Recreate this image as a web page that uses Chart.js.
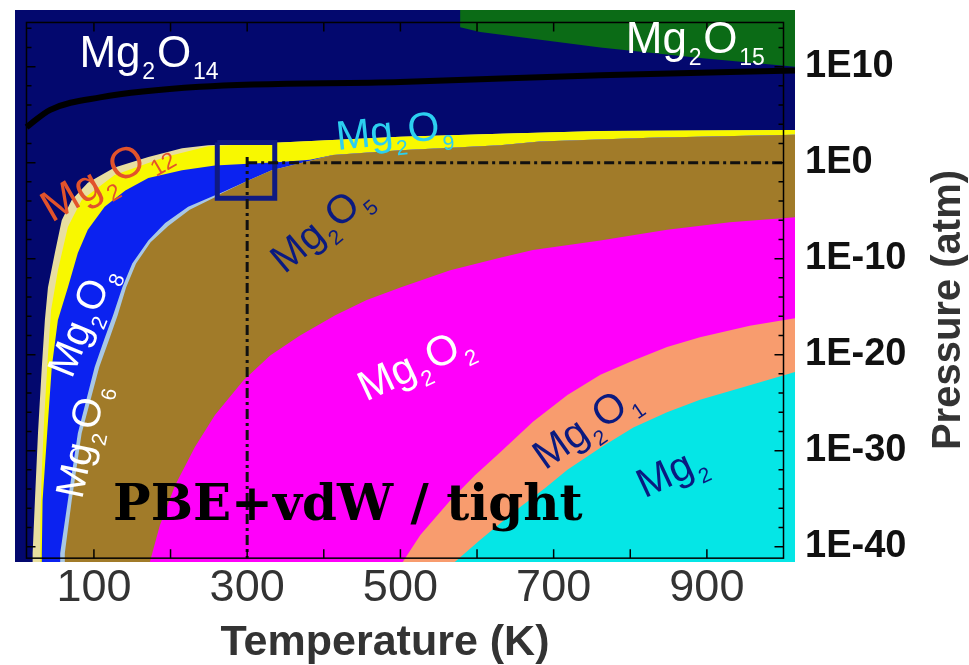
<!DOCTYPE html>
<html lang="en">
<head>
<meta charset="UTF-8" />
<title>Mg2Ox phase diagram</title>
<script src="https://cdn.jsdelivr.net/npm/chart.js"></script>
<style>
  * { margin: 0; padding: 0; box-sizing: border-box; }
  body { background: #fff; width: 969px; height: 665px; overflow: hidden; }
</style>
</head>
<body>
<canvas id="phaseChart" width="969" height="665"></canvas>
<script>
// axis ranges: temperature (K) and log10 of pressure (atm)
const tMin = -3, tMax = 1015;
const pMin = -41.6, pMax = 15.9;
const xTickValues = [100, 300, 500, 700, 900];
const yTickValues = [-40, -30, -20, -10, 0, 10];

// phase boundaries (T in K, log10 P)
const o15T = [578, 578, 604, 761, 891, 1015];
const o15P = [15.9, 14.1, 13.6, 12.0, 10.9, 10.0];

const o12T = [20, 20, 23, 27, 32, 36, 40, 49, 58, 71, 92, 127, 171, 215, 249, 343, 500, 630, 761, 1015];
const o12P = [-41.6, -40.7, -35.2, -28.2, -21.3, -16.4, -13.0, -9.4, -6.0, -3.9, -2.1, -0.5, 0.6, 1.5, 1.8, 2.1, 2.7, 3.0, 3.3, 3.4];

const o9T = [30, 30, 32, 35, 39, 44, 53, 66, 84, 127, 193, 249, 343, 500, 630, 761, 1015];
const o9P = [-41.6, -37.2, -32.1, -26.8, -21.3, -15.4, -11.2, -6.7, -3.9, -1.3, 0.6, 1.7, 2.1, 2.7, 3.0, 3.3, 3.4];

const o8T = [32, 32, 33, 39, 45, 53, 66, 79, 92, 114, 141, 171, 215, 258, 339, 382, 412, 500, 630, 682, 826, 1015];
const o8P = [-41.6, -40.7, -35.2, -28.2, -21.3, -16.4, -13.0, -9.4, -7.0, -4.6, -2.9, -1.6, -0.8, -0.3, 0.05, 0.3, 0.8, 1.3, 1.8, 2.2, 2.6, 2.9];

const o6T = [56, 56, 66, 79, 101, 114, 125, 137, 150, 171, 193, 223, 258, 267, 300, 332, 382, 412, 500, 630, 682, 826, 1015];
const o6P = [-41.6, -40.7, -35.2, -28.2, -21.3, -18.3, -15.9, -13.0, -10.5, -8.1, -6.3, -4.6, -3.4, -3.1, -1.9, -0.8, 0.2, 0.8, 1.3, 1.8, 2.2, 2.6, 2.9];

const o5T = [62, 62, 71, 84, 107, 120, 131, 142, 155, 174, 197, 225, 258, 267, 300, 332, 382, 412, 500, 630, 682, 826, 1015];
const o5P = [-41.6, -40.7, -35.2, -28.2, -21.3, -18.4, -15.9, -13.0, -10.5, -8.3, -6.6, -4.9, -3.6, -3.2, -1.9, -0.8, 0.2, 0.8, 1.3, 1.8, 2.2, 2.6, 2.9];

const o2T = [173, 186, 206, 232, 258, 295, 330, 369, 415, 456, 500, 565, 630, 673, 761, 848, 930, 1015];
const o2P = [-41.6, -37.8, -33.6, -29.6, -26.3, -22.7, -20.1, -18.0, -15.9, -14.3, -13.0, -11.2, -9.9, -9.1, -8.1, -7.0, -6.2, -5.7];

const o1T = [503, 526, 565, 597, 630, 673, 718, 761, 804, 848, 891, 956, 1015];
const o1P = [-41.6, -38.8, -35.2, -32.6, -30.2, -27.0, -24.2, -22.1, -20.6, -19.2, -18.2, -17.0, -16.2];

const mg2T = [571, 604, 630, 656, 689, 718, 761, 804, 848, 891, 956, 1015];
const mg2P = [-41.6, -39.3, -37.6, -35.9, -33.9, -32.0, -29.7, -27.6, -26.0, -24.7, -23.2, -21.8];

// thick black line inside the Mg2O14 field
const lineT = [12, 43, 108, 238, 500, 761, 1015];
const lineP = [3.7, 5.5, 6.8, 7.9, 8.4, 9.1, 9.6];

// marked box, guide lines at 300 K / 1 atm, plot frame
const boxT = [261, 336];
const boxP = [-3.7, 2.1];
const guideT = 300, guideP = 0;
const frameT = [12, 1000];
const frameP = [-41.2, 14.6];

const phaseLabels = [
  { parts: ["Mg", "2", "O", "14"], t: 173, p: 11.6, angle: 0, size: 44, color: "#ffffff" },
  { parts: ["Mg", "2", "O", "15"], t: 886, p: 13.1, angle: 0, size: 44, color: "#ffffff" },
  { parts: ["Mg", "2", "O", "12"], t: 114, p: -1.2, angle: -30, size: 44, color: "#e2532b" },
  { parts: ["Mg", "2", "O", "9"], t: 493, p: 3.5, angle: -6, size: 41, color: "#2ccff0" },
  { parts: ["Mg", "2", "O", "5"], t: 395, p: -6.6, angle: -40, size: 40, color: "#0a1a80" },
  { parts: ["Mg", "2", "O", "8"], t: 82, p: -16.4, angle: -68, size: 40, color: "#ffffff" },
  { parts: ["Mg", "2", "O", "6"], t: 82, p: -28.9, angle: -78, size: 40, color: "#ffffff" },
  { parts: ["Mg", "2", "O", "2"], t: 519, p: -20.8, angle: -25, size: 42, color: "#ffffff" },
  { parts: ["Mg", "2", "O", "1"], t: 741, p: -27.3, angle: -35, size: 41, color: "#0a1a80" },
  { parts: ["Mg", "2"], t: 853, p: -32.0, angle: -25, size: 41, color: "#0a1a80" },
];

function toPoints(ts, ps) {
  return ts.map((t, i) => ({ x: t, y: ps[i] }));
}

// a phase field is everything below/right of its boundary; drawn in layers
function field(color, ts, ps, order, corner) {
  const pts = toPoints(ts, ps);
  pts.push(corner || { x: tMax, y: pMin });
  return {
    data: pts,
    backgroundColor: color,
    borderWidth: 0,
    fill: "shape",
    pointRadius: 0,
    order: order,
  };
}

const datasets = [
  field("#03086e", [tMin, tMin, tMax], [pMin, pMax, pMax], 20),
  field("#0b6b16", o15T, o15P, 19, { x: tMax, y: pMax }),
  field("#e8dea0", o12T, o12P, 18),
  field("#f8f800", o9T, o9P, 17),
  field("#0b22f0", o8T, o8P, 16),
  field("#a9c8e4", o6T, o6P, 15),
  field("#a17b29", o5T, o5P, 14),
  field("#ff00fa", o2T, o2P, 13),
  field("#f89c6e", o1T, o1P, 12),
  field("#05e6e6", mg2T, mg2P, 11),
  {
    data: toPoints(lineT, lineP),
    borderColor: "#000",
    borderWidth: 6,
    fill: false,
    pointRadius: 0,
    cubicInterpolationMode: "monotone",
    order: 3,
  },
  {
    data: toPoints([boxT[0], boxT[1], boxT[1], boxT[0], boxT[0]], [boxP[1], boxP[1], boxP[0], boxP[0], boxP[1]]),
    borderColor: "#0f1a82",
    borderWidth: 5,
    fill: false,
    pointRadius: 0,
    order: 2,
  },
  {
    data: toPoints([guideT, guideT], [0.6, frameP[0]]),
    borderColor: "#111",
    borderWidth: 3,
    borderDash: [10, 4, 3, 4],
    fill: false,
    pointRadius: 0,
    order: 1,
  },
  {
    data: toPoints([guideT, frameT[1]], [guideP, guideP]),
    borderColor: "#111",
    borderWidth: 3,
    borderDash: [10, 4, 3, 4],
    fill: false,
    pointRadius: 0,
    order: 0,
  },
];

function drawFormula(ctx, parts, size, color) {
  const mainFont = size + "px 'Liberation Sans', Arial, sans-serif";
  const subFont = Math.round(size * 0.52) + "px 'Liberation Sans', Arial, sans-serif";
  const widths = [];
  let total = 0;
  parts.forEach((p, i) => {
    ctx.font = i % 2 ? subFont : mainFont;
    const w = ctx.measureText(p).width + (i % 2 ? size * 0.08 : 0);
    widths.push(w);
    total += w;
  });
  let cx = -total / 2;
  ctx.fillStyle = color;
  ctx.textAlign = "left";
  ctx.textBaseline = "alphabetic";
  parts.forEach((p, i) => {
    ctx.font = i % 2 ? subFont : mainFont;
    const dy = i % 2 ? size * 0.64 : size * 0.36;
    ctx.fillText(p, cx + (i % 2 ? size * 0.04 : 0), dy);
    cx += widths[i];
  });
}

const overlay = {
  id: "overlay",
  afterDatasetsDraw(chart) {
    const { ctx } = chart;
    const x = chart.scales.x, y = chart.scales.y;
    const l = x.getPixelForValue(frameT[0]), r = x.getPixelForValue(frameT[1]);
    const t = y.getPixelForValue(frameP[1]), b = y.getPixelForValue(frameP[0]);
    ctx.save();
    ctx.strokeStyle = "#000";
    ctx.lineWidth = 1.5;
    ctx.strokeRect(l, t, r - l, b - t);
    ctx.beginPath();
    for (let v = 100; v <= 900; v += 100) {
      const px = x.getPixelForValue(v);
      ctx.moveTo(px, b); ctx.lineTo(px, b - 9);
      ctx.moveTo(px, t); ctx.lineTo(px, t + 9);
    }
    for (let v = -40; v <= 14; v += 2) {
      const py = y.getPixelForValue(v);
      const len = v % 10 === 0 ? 9 : 5;
      ctx.moveTo(l, py); ctx.lineTo(l + len, py);
      ctx.moveTo(r, py); ctx.lineTo(r - len, py);
    }
    ctx.stroke();

    phaseLabels.forEach((lab) => {
      ctx.save();
      ctx.translate(x.getPixelForValue(lab.t), y.getPixelForValue(lab.p));
      ctx.rotate((lab.angle * Math.PI) / 180);
      drawFormula(ctx, lab.parts, lab.size, lab.color);
      ctx.restore();
    });

    ctx.fillStyle = "#000";
    ctx.font = "bold 50px 'DejaVu Serif', serif";
    ctx.textAlign = "left";
    ctx.textBaseline = "alphabetic";
    ctx.fillText("PBE+vdW / tight", x.getPixelForValue(125), y.getPixelForValue(-37.2));

    // axis titles
    ctx.fillStyle = "#333";
    ctx.font = "bold 43px 'Liberation Sans', Arial, sans-serif";
    ctx.textAlign = "center";
    ctx.fillText("Temperature (K)", 385, 655);
    ctx.save();
    ctx.translate(960, 310);
    ctx.rotate(-Math.PI / 2);
    ctx.font = "bold 40px 'Liberation Sans', Arial, sans-serif";
    ctx.fillText("Pressure (atm)", 0, 0);
    ctx.restore();
    ctx.restore();
  },
};

new Chart(document.getElementById("phaseChart"), {
  type: "line",
  data: { datasets },
  options: {
    responsive: false,
    devicePixelRatio: 1,
    animation: false,
    events: [],
    layout: { padding: { left: 15, top: 10, right: 0, bottom: 0 } },
    plugins: { legend: { display: false }, tooltip: { enabled: false } },
    scales: {
      x: {
        type: "linear",
        min: tMin,
        max: tMax,
        grid: { display: false },
        border: { display: false },
        afterBuildTicks: (s) => { s.ticks = xTickValues.map((v) => ({ value: v })); },
        afterFit: (s) => { s.height = 103; s.paddingLeft = 0; s.paddingRight = 0; },
        ticks: {
          autoSkip: false,
          maxRotation: 0,
          padding: -8,
          color: "#333",
          font: { family: "'Liberation Sans', Arial, sans-serif", size: 45 },
        },
      },
      y: {
        type: "linear",
        position: "right",
        min: pMin,
        max: pMax,
        grid: { display: false, drawTicks: false },
        border: { display: false },
        afterBuildTicks: (s) => { s.ticks = yTickValues.map((v) => ({ value: v })); },
        afterFit: (s) => { s.width = 174; s.paddingTop = 0; s.paddingBottom = 0; },
        ticks: {
          autoSkip: false,
          padding: 10,
          color: "#111",
          font: { family: "'Liberation Sans', Arial, sans-serif", size: 38, weight: "bold" },
          callback: (v) => "1E" + v,
        },
      },
    },
  },
  plugins: [overlay],
});
</script>
</body>
</html>
